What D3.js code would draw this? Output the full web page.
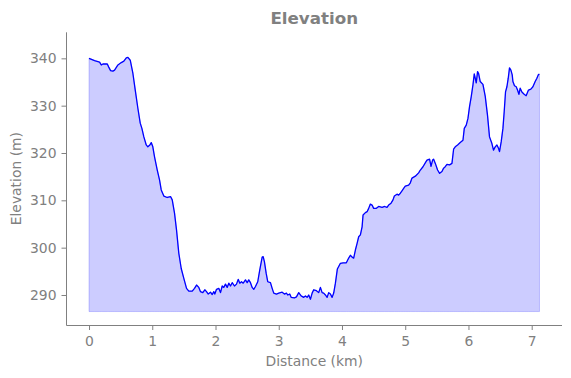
<!DOCTYPE html>
<html>
<head>
<meta charset="utf-8">
<script src="https://cdn.jsdelivr.net/npm/d3@7"></script>
<style>
  body { margin: 0; background: #fff; }
  svg text { font-family: "DejaVu Sans", sans-serif; fill: #808080; }
</style>
</head>
<body>
<svg id="chart" width="571" height="378"></svg>
<script>
// distance along the track (km) and elevation (m)
const distanceKm = [
  0, 0.088, 0.167, 0.194, 0.220, 0.289, 0.310, 0.341, 0.378, 0.404,
  0.457, 0.510, 0.551, 0.589, 0.615, 0.652, 0.694, 0.731, 0.773, 0.810,
  0.836, 0.867, 0.905, 0.930, 0.962, 0.984, 1.009, 1.036, 1.079, 1.115,
  1.142, 1.183, 1.237, 1.289, 1.316, 1.352, 1.384, 1.420, 1.458, 1.499,
  1.542, 1.578, 1.632, 1.668, 1.700, 1.736, 1.763, 1.799, 1.831, 1.858,
  1.885, 1.921, 1.948, 1.973, 1.989, 2.016, 2.052, 2.079, 2.106, 2.131,
  2.158, 2.185, 2.210, 2.237, 2.264, 2.300, 2.332, 2.359, 2.384, 2.411,
  2.438, 2.474, 2.501, 2.526, 2.553, 2.580, 2.605, 2.632, 2.668, 2.700,
  2.738, 2.754, 2.774, 2.801, 2.826, 2.869, 2.896, 2.921, 2.964, 3.000,
  3.054, 3.090, 3.122, 3.142, 3.174, 3.196, 3.248, 3.280, 3.316, 3.354,
  3.395, 3.422, 3.449, 3.474, 3.501, 3.528, 3.553, 3.596, 3.632, 3.659,
  3.686, 3.711, 3.738, 3.765, 3.790, 3.817, 3.844, 3.869, 3.896, 3.927,
  3.975, 4.017, 4.069, 4.106, 4.133, 4.160, 4.185, 4.212, 4.239, 4.264,
  4.291, 4.318, 4.333, 4.370, 4.397, 4.422, 4.449, 4.476, 4.501, 4.544,
  4.580, 4.634, 4.675, 4.712, 4.738, 4.776, 4.807, 4.828, 4.870, 4.896,
  4.923, 4.949, 4.975, 5.001, 5.054, 5.081, 5.107, 5.160, 5.212, 5.239,
  5.281, 5.317, 5.344, 5.385, 5.408, 5.433, 5.449, 5.476, 5.512, 5.544,
  5.581, 5.607, 5.633, 5.660, 5.701, 5.739, 5.765, 5.791, 5.828, 5.870,
  5.913, 5.934, 5.965, 5.992, 6.017, 6.044, 6.071, 6.092, 6.107, 6.123,
  6.144, 6.160, 6.186, 6.229, 6.265, 6.301, 6.333, 6.371, 6.396, 6.423,
  6.450, 6.475, 6.491, 6.518, 6.545, 6.565, 6.586, 6.608, 6.629, 6.649,
  6.671, 6.692, 6.703, 6.728, 6.755, 6.776, 6.798, 6.818, 6.845, 6.881,
  6.912, 6.949, 6.987, 7.019, 7.055, 7.082, 7.107, 7.123
];
const elevationM = [
  340.0, 339.5, 339.2, 338.6, 338.8, 338.8, 338.2, 337.4, 337.3, 337.5,
  338.6, 339.1, 339.4, 340.1, 340.2, 339.6, 336.8, 333.3, 329.4, 326.3,
  325.2, 323.4, 321.7, 321.3, 321.7, 322.2, 321.3, 319.2, 316.4, 314.3,
  312.2, 310.9, 310.6, 310.8, 310.1, 307.3, 303.7, 298.8, 295.6, 293.5,
  291.4, 290.8, 290.8, 291.4, 292.1, 291.6, 290.7, 290.5, 291.1, 290.7,
  290.2, 290.6, 290.1, 290.7, 290.2, 291.2, 291.4, 290.5, 291.9, 291.6,
  292.3, 291.6, 292.5, 291.9, 292.6, 291.9, 292.3, 293.3, 292.5, 292.8,
  292.5, 293.2, 292.6, 293.2, 292.6, 291.6, 291.2, 291.8, 292.8, 295.3,
  298.0, 298.1, 297.0, 294.6, 292.8, 292.6, 291.4, 290.4, 290.2, 290.4,
  290.6, 290.2, 290.4, 290.0, 290.2, 289.5, 289.4, 289.6, 290.5, 289.8,
  289.5, 289.8, 289.5, 290.0, 289.1, 290.4, 291.1, 290.9, 290.5, 291.6,
  290.5, 290.4, 290.0, 289.5, 290.5, 290.2, 289.5, 290.4, 292.5, 295.5,
  296.7, 296.8, 296.8, 297.8, 298.4, 298.0, 297.8, 299.5, 300.9, 302.3,
  302.7, 304.4, 306.9, 307.4, 307.6, 308.3, 309.2, 309.0, 308.3, 308.3,
  308.7, 308.5, 308.7, 308.5, 309.0, 309.4, 310.1, 310.9, 311.3, 311.1,
  311.5, 312.0, 312.5, 313.0, 313.2, 313.7, 314.7, 315.1, 315.8, 316.4,
  317.1, 317.9, 318.5, 318.7, 317.2, 318.5, 318.7, 317.8, 316.4, 315.7,
  316.1, 316.8, 317.1, 317.6, 317.5, 317.8, 320.8, 321.3, 321.7, 322.2,
  322.7, 325.2, 325.9, 327.3, 329.8, 331.9, 334.4, 336.7, 335.8, 334.8,
  337.2, 336.8, 335.1, 334.5, 332.0, 328.0, 323.4, 322.0, 320.6, 321.3,
  321.7, 321.0, 320.3, 322.4, 325.2, 328.7, 332.9, 334.0, 335.8, 338.0,
  337.5, 336.5, 335.1, 334.2, 334.0, 333.3, 332.4, 333.7, 332.9, 332.4,
  332.1, 333.3, 333.5, 334.0, 335.1, 335.8, 336.6, 336.6
];
const fillBaseM = 286.5;
const xTicks = [0, 1, 2, 3, 4, 5, 6, 7];
const yTicks = [290, 300, 310, 320, 330, 340];

const chartTitle = 'Elevation';
const xLabel = 'Distance (km)';
const yLabel = 'Elevation (m)';

const points = distanceKm.map((d, i) => ({ km: d, m: elevationM[i] }));

const $svg = d3.select('#chart');
const plotLeft = 66.5;
const plotRight = 562;
const plotTop = 32.3;
const plotBottom = 325;
const grey = '#808080';

const xSpan = d3.max(distanceKm);
const x = d3.scaleLinear()
	.domain([-0.05 * xSpan, xSpan * 1.05])
	.range([plotLeft, plotRight]);

const y = d3.scaleLinear()
	.domain([283.66, 345.5])
	.range([plotBottom, plotTop]);

// filled area under the profile
const area = d3.area()
	.x(d => x(d.km))
	.y0(y(fillBaseM))
	.y1(d => y(d.m));

$svg.append('path')
	.datum(points)
	.attr('d', area)
	.attr('fill', 'blue')
	.attr('fill-opacity', 0.2)
	.attr('stroke', 'blue')
	.attr('stroke-opacity', 0.2)
	.attr('stroke-width', 1);

const line = d3.line()
	.x(d => x(d.km))
	.y(d => y(d.m));

$svg.append('path')
	.datum(points)
	.attr('d', line)
	.attr('fill', 'none')
	.attr('stroke', 'blue')
	.attr('stroke-width', 1.3)
	.attr('stroke-linejoin', 'round');

// axes (ticks + labels), spines drawn separately
const $xAxis = $svg.append('g')
	.attr('transform', `translate(0,${plotBottom})`)
	.call(d3.axisBottom(x).tickValues(xTicks).tickFormat(d3.format('d')).tickSizeOuter(0).tickSize(5).tickPadding(6));

const $yAxis = $svg.append('g')
	.attr('transform', `translate(${plotLeft},0)`)
	.call(d3.axisLeft(y).tickValues(yTicks).tickFormat(d3.format('d')).tickSizeOuter(0).tickSize(5).tickPadding(5));

[$xAxis, $yAxis].forEach($a => {
	$a.select('.domain').remove();
	$a.selectAll('.tick line').attr('stroke', grey).attr('stroke-width', 1);
	$a.selectAll('.tick text')
		.attr('fill', grey)
		.style('font-size', '13.9px')
		.style('font-family', '"DejaVu Sans", sans-serif');
});

// left + bottom spines
$svg.append('path')
	.attr('d', `M${plotLeft},${plotTop}V${plotBottom + 0.5}H${plotRight}`)
	.attr('fill', 'none')
	.attr('stroke', grey)
	.attr('stroke-width', 1);

// titles
$svg.append('text')
	.attr('x', (plotLeft + plotRight) / 2)
	.attr('y', 24)
	.attr('text-anchor', 'middle')
	.style('font-size', '16.7px')
	.style('font-weight', 'bold')
	.text(chartTitle);

$svg.append('text')
	.attr('x', (plotLeft + plotRight) / 2)
	.attr('y', 366)
	.attr('text-anchor', 'middle')
	.style('font-size', '13.9px')
	.text(xLabel);

$svg.append('text')
	.attr('transform', `translate(21,${(plotTop + plotBottom) / 2}) rotate(-90)`)
	.attr('text-anchor', 'middle')
	.style('font-size', '13.9px')
	.text(yLabel);
</script>
</body>
</html>
